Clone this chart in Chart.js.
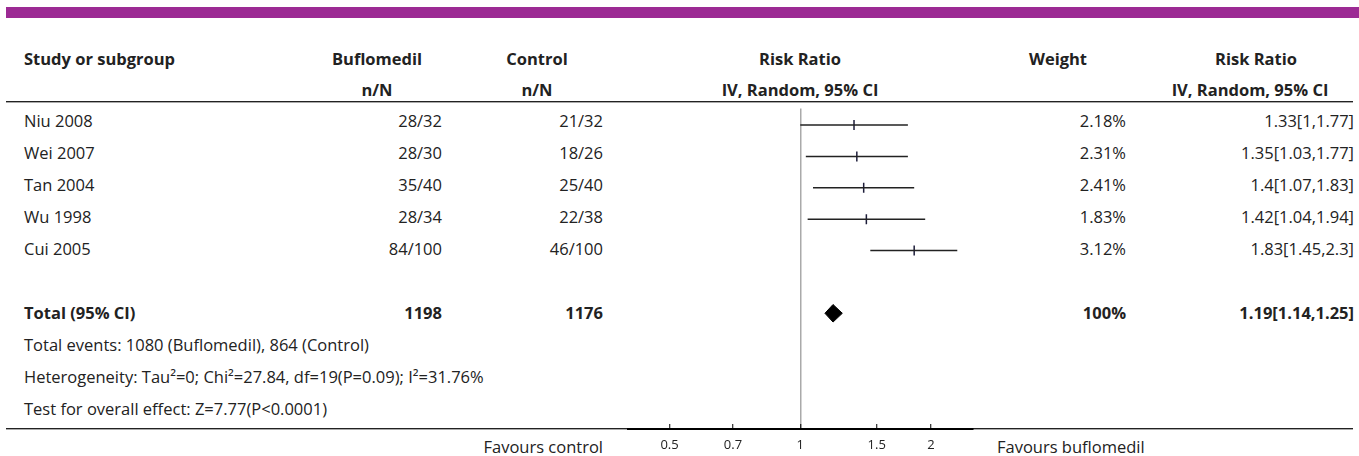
<!DOCTYPE html>
<html lang="en">
<head>
<meta charset="UTF-8">
<title>Buflomedil vs Control - Risk Ratio</title>
<style>
html,body {margin:0; padding:0; background:#fff; overflow:hidden;}
body {width:1359px; height:456px; position:relative; font-family:"Open Sans","Noto Sans",Lato,sans-serif; font-size:16.5px; color:#222;}
.bar {position:absolute; left:6px; top:7px; width:1353px; height:11px; background:#9c2a94;}
.rule {position:absolute; left:6px; width:1347px; height:0; border-top:1px solid #222; border-bottom:1px solid #aaa;}
.t {position:absolute; line-height:20px; white-space:nowrap;}
.b {font-weight:700;}
#forest {position:absolute; left:600px; top:102px;}
</style>
</head>
<body>
<div class="bar"></div>
<div class="rule" style="top:101px"></div>
<div class="rule" style="top:428px"></div>
<div id="table"></div>
<canvas id="forest" width="400" height="354"></canvas>
<script src="https://cdn.jsdelivr.net/npm/chart.js"></script>
<script>
const studies = ['Niu 2008','Wei 2007','Tan 2004','Wu 1998','Cui 2005'];
const bufloEvents = ['28/32','28/30','35/40','28/34','84/100'];
const controlEvents = ['21/32','18/26','25/40','22/38','46/100'];
const weights = ['2.18%','2.31%','2.41%','1.83%','3.12%'];
const rr = [1.33,1.35,1.4,1.42,1.83];
const ciLow = [1,1.03,1.07,1.04,1.45];
const ciHigh = [1.77,1.77,1.83,1.94,2.3];
const totalN = [1198,1176];
const totalRR = [1.19,1.14,1.25]; // estimate, low, high
const totalWeight = '100%';
const xTicks = [0.5,0.7,1,1.5,2];
const footLines = [
  'Total events: 1080 (Buflomedil), 864 (Control)',
  'Heterogeneity: Tau\u00b2=0; Chi\u00b2=27.84, df=19(P=0.09); I\u00b2=31.76%',
  'Test for overall effect: Z=7.77(P<0.0001)'
];

// table text (HTML)
const tbl = document.getElementById('table');
function put(txt, x, cy, align, bold){
  const d = document.createElement('div');
  d.className = 't' + (bold ? ' b' : '');
  d.textContent = txt;
  d.style.top = (cy - 10) + 'px';
  if (align === 'left') d.style.left = x + 'px';
  else if (align === 'right') d.style.right = (1359 - x) + 'px';
  else { d.style.left = x + 'px'; d.style.transform = 'translateX(-50%)'; }
  tbl.appendChild(d);
}
put('Study or subgroup', 24, 59, 'left', true);
put('Buflomedil', 377, 59, 'center', true);
put('n/N', 377, 90, 'center', true);
put('Control', 537, 59, 'center', true);
put('n/N', 537, 90, 'center', true);
put('Risk Ratio', 800, 59, 'center', true);
put('IV, Random, 95% CI', 800, 90, 'center', true);
put('Weight', 1058, 59, 'center', true);
put('Risk Ratio', 1256, 59, 'center', true);
put('IV, Random, 95% CI', 1250, 90, 'center', true);
const rowY = i => 121 + 32 * i;
studies.forEach((s, i) => {
  put(s, 24, rowY(i), 'left');
  put(bufloEvents[i], 442, rowY(i), 'right');
  put(controlEvents[i], 603, rowY(i), 'right');
  put(weights[i], 1126, rowY(i), 'right');
  put(rr[i] + '[' + ciLow[i] + ',' + ciHigh[i] + ']', 1354, rowY(i), 'right');
});
put('Total (95% CI)', 24, rowY(6), 'left', true);
put(String(totalN[0]), 442, rowY(6), 'right', true);
put(String(totalN[1]), 603, rowY(6), 'right', true);
put(totalWeight, 1126, rowY(6), 'right', true);
put(totalRR[0] + '[' + totalRR[1] + ',' + totalRR[2] + ']', 1354, rowY(6), 'right', true);
footLines.forEach((f, k) => put(f, 24, rowY(7 + k), 'left'));
put('Favours control', 603, 447, 'right');
put('Favours buflomedil', 997, 447, 'left');

// forest plot
const ink = '#222';
const datasets = studies.map((s, i) => ({
  label: s,
  data: [{x: ciLow[i], y: i}, {x: ciHigh[i], y: i}],
  showLine: true, borderColor: ink, borderWidth: 1.5, pointRadius: 0
}));
datasets.push({
  label: 'estimate',
  data: rr.map((v, i) => ({x: v, y: i})),
  pointStyle: 'line', rotation: 90, pointRadius: 5,
  borderColor: '#1d1d3a', borderWidth: 1.5
});
const dh = 0.28;
datasets.push({
  label: 'total',
  data: [{x: totalRR[1], y: 6}, {x: totalRR[0], y: 6 - dh}, {x: totalRR[2], y: 6}, {x: totalRR[0], y: 6 + dh}, {x: totalRR[1], y: 6}],
  showLine: true, fill: 'shape', backgroundColor: '#000', borderColor: '#000',
  borderWidth: 1, pointRadius: 0, tension: 0
});

new Chart(document.getElementById('forest'), {
  type: 'scatter',
  data: {datasets: datasets},
  options: {
    responsive: false,
    animation: false,
    layout: {padding: {left: 27.5, right: 27, top: 0, bottom: 0}},
    plugins: {legend: {display: false}, tooltip: {enabled: false}},
    scales: {
      x: {
        type: 'logarithmic', min: 0.4, max: 2.5, position: 'bottom',
        afterBuildTicks: sc => { sc.ticks = xTicks.map(v => ({value: v})); },
        afterFit: sc => { sc.height = 27; },
        border: {display: true, color: '#000', width: 2},
        grid: {
          drawOnChartArea: true,
          color: c => (c.tick && c.tick.value === 1) ? '#aaa' : 'rgba(0,0,0,0)',
          lineWidth: 1.5,
          tickColor: '#000', tickWidth: 1, tickLength: -5
        },
        ticks: {
          color: ink, padding: 13, autoSkip: false, maxRotation: 0,
          font: {family: '"Open Sans","Noto Sans",Lato,sans-serif', size: 13},
          callback: v => String(v)
        }
      },
      y: {
        type: 'linear', reverse: true, min: -0.53, max: 9.69, display: false
      }
    }
  }
});
</script>
</body>
</html>
